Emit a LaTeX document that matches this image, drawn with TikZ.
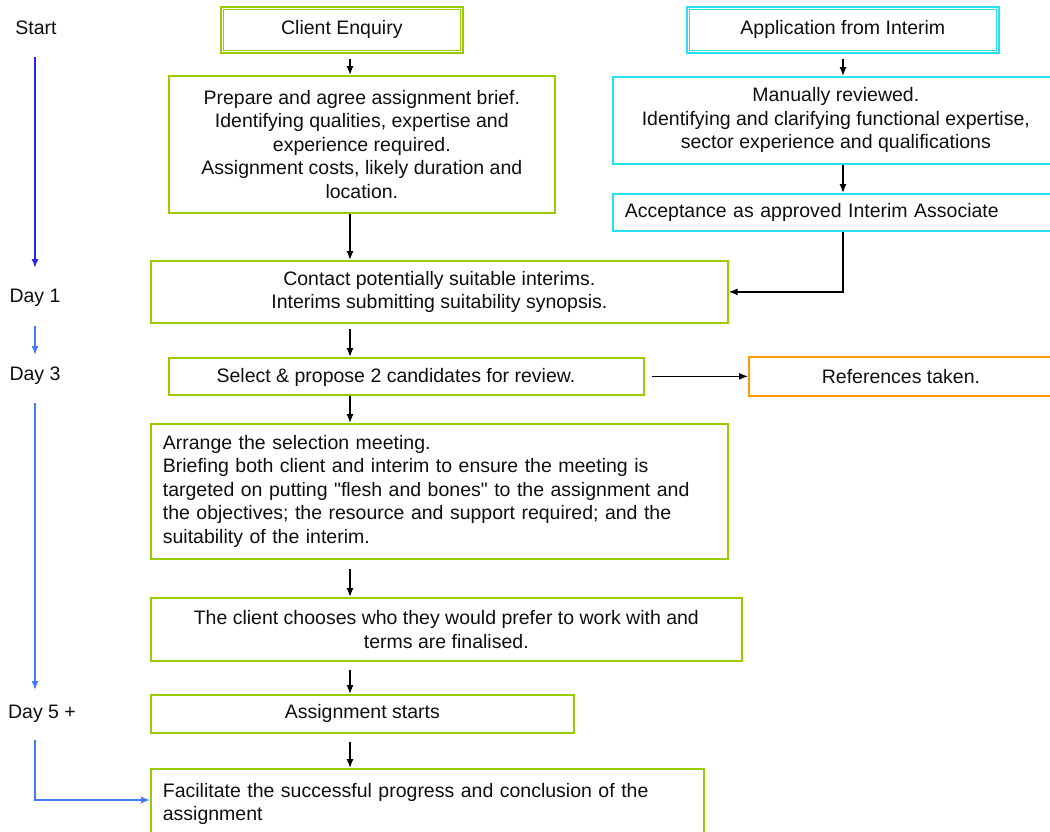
\documentclass[tikz,border=0pt]{standalone}
\usepackage{fontspec}
\setmainfont{Liberation Sans}
\usetikzlibrary{arrows.meta}
\newcommand{\strq}{\XeTeXglyph\XeTeXcharglyph"22\relax}
\definecolor{grn}{RGB}{153,204,0}
\definecolor{cyn}{RGB}{40,225,240}
\definecolor{org}{RGB}{255,153,0}
\definecolor{bluA}{RGB}{40,40,240}
\definecolor{bluB}{RGB}{70,120,255}
\definecolor{txt}{RGB}{15,15,15}
\begin{document}
\begin{tikzpicture}[x=1pt,y=-1pt,
  font=\fontsize{19.5}{23.5}\selectfont, text=txt,
  box/.style={draw, rectangle, line width=1.7pt, inner sep=0pt, anchor=north west, align=center},
  gbox/.style={box, draw=grn},
  cbox/.style={box, draw=cyn},
  obox/.style={box, draw=org},
  lbox/.style={inner xsep=12pt, inner ysep=0pt, align=left},
  arr/.style={draw=black, line width=1.3pt, -{Latex[length=9pt,width=7pt]}},
  tl/.style={line width=1.4pt, -{Latex[length=9pt,width=7pt]}},
  lbl/.style={inner sep=0pt}
]
\useasboundingbox (0,0) rectangle (1050,831);
\clip (0,0) rectangle (1050,831);
\fill[white] (0,0) rectangle (1050,831);

% ---- time labels
\node[lbl] (start) at (36,28) {Start};
\node[lbl] (d1) at (35,298) {Day 1};
\node[lbl] (d3) at (35,376) {Day 3};
\node[lbl] (d5) at (42,714) {Day 5 +};

% ---- client side
\node[gbox, minimum width=242pt, minimum height=46pt] (ce) at (220,6) {Client Enquiry};
\draw[grn, line width=1.4pt] ([shift={(3.5pt,-3.5pt)}]ce.north west) rectangle ([shift={(-3.5pt,3.5pt)}]ce.south east);
\node[gbox, minimum width=386pt, minimum height=137pt] (prep) at (168,75)
  {Prepare and agree assignment brief.\\ Identifying qualities, expertise and\\ experience required.\\ Assignment costs, likely duration and\\ location.};
\node[gbox, minimum width=577pt, minimum height=62pt] (contact) at (150,260)
  {Contact potentially suitable interims.\\ Interims submitting suitability synopsis.};
\node[gbox, minimum width=475pt, minimum height=37pt] (sel) at (168,357) {};
\node[lbl] (seltxt) at (396,377) {Select \& propose 2 candidates for review.};
\node[gbox, lbox, text width=553pt, minimum height=135pt] (arr1) at (150,423)
  {Arrange the selection meeting.\\ Briefing both client and interim to ensure the meeting is\\ targeted on putting \strq flesh and bones\strq{} to the assignment and\\ the objectives; the resource and support required; and the\\ suitability of the interim.};
\node[gbox, minimum width=591pt, minimum height=63pt] (choose) at (150,597)
  {The client chooses who they would prefer to work with and\\ terms are finalised.};
\node[gbox, minimum width=423pt, minimum height=38pt] (start2) at (150,694) {Assignment starts};
\node[gbox, lbox, text width=529pt, minimum height=70pt] (fac) at (150,768)
  {Facilitate the successful progress and conclusion of the\\ assignment};

% ---- interim side
\node[cbox, minimum width=312pt, minimum height=46pt] (app) at (686,6) {Application from Interim};
\draw[cyn, line width=1.4pt] ([shift={(3.5pt,-3.5pt)}]app.north west) rectangle ([shift={(-3.5pt,3.5pt)}]app.south east);
\node[cbox, minimum width=446pt, minimum height=87pt] (man) at (612,76)
  {Manually reviewed.\\ Identifying and clarifying functional expertise,\\ sector experience and qualifications};
\node[cbox, lbox, text width=422pt, minimum height=37pt] (acc) at (612,193)
  {Acceptance as approved Interim Associate};
\node[obox, minimum width=310pt, minimum height=39pt] (ref) at (748,356) {};
\node[lbl] (reftxt) at (901,377) {References taken.};

% ---- connectors
\coordinate (ax) at (350,0);
\coordinate (bx) at (843,0);
\draw[arr, shorten <=5pt] (ce.south -| ax) -- (prep.north -| ax);
\draw[arr] (prep.south -| ax) -- (contact.north -| ax);
\draw[arr, shorten <=5pt] (contact.south -| ax) -- (sel.north -| ax);
\draw[arr] (sel.south -| ax) -- (arr1.north -| ax);
\draw[arr, shorten <=9pt] (arr1.south -| ax) -- (choose.north -| ax);
\draw[arr, shorten <=8pt] (choose.south -| ax) -- (start2.north -| ax);
\draw[arr, shorten <=8pt] (start2.south -| ax) -- (fac.north -| ax);
\draw[arr, shorten <=5pt] (app.south -| bx) -- (man.north -| bx);
\draw[arr] (man.south -| bx) -- (acc.north -| bx);
\draw[arr] (acc.south -| bx) |- (contact.east);
\draw[arr, shorten <=7pt] (sel.east) -- (ref.west);

% ---- timeline
\coordinate (t1) at (35,57);
\coordinate (t2) at (35,268);
\coordinate (t3) at (35,326);
\coordinate (t4) at (35,355);
\coordinate (t5) at (35,403);
\coordinate (t6) at (35,690);
\coordinate (t7) at (35,740);
\draw[tl, draw=bluA] (t1) -- (t2);
\draw[tl, draw=bluB] (t3) -- (t4);
\draw[tl, draw=bluB] (t5) -- (t6);
\draw[tl, draw=bluB] (t7) |- (fac.west |- 0,800);
\end{tikzpicture}
\end{document}
